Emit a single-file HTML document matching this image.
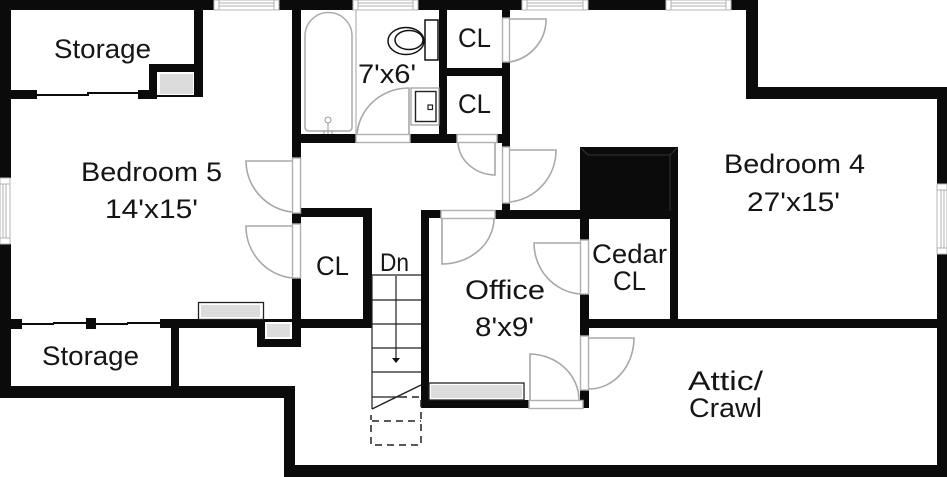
<!DOCTYPE html>
<html><head><meta charset="utf-8"><style>
html,body{margin:0;padding:0;background:#fff;width:947px;height:477px;overflow:hidden}
svg{display:block;filter:blur(0.3px)}
text{font-family:"Liberation Sans",sans-serif;font-size:27px;fill:#151515}
.d{fill:none;stroke:#a8a8a8;stroke-width:1.6}
.o{fill:#fff;stroke:#b0b0b0;stroke-width:1.4}
.l{stroke:#b0b0b0;stroke-width:1;fill:none}
</style></head><body>
<svg width="947" height="477" viewBox="0 0 947 477" xmlns="http://www.w3.org/2000/svg">
<rect width="947" height="477" fill="#fff"/>
<g fill="#0b0b0b">
<!-- top wall -->
<rect x="0" y="0" width="214" height="10"/><rect x="279" y="0" width="74" height="10"/><rect x="418" y="0" width="104" height="10"/><rect x="588" y="0" width="78" height="10"/><rect x="731" y="0" width="27" height="10"/>
<!-- outer right stepped -->
<rect x="746" y="0" width="12" height="99"/><rect x="746" y="87" width="201" height="12"/><rect x="937" y="87" width="10" height="97"/><rect x="937" y="254" width="10" height="223"/>
<!-- left -->
<rect x="0" y="0" width="11" height="178"/><rect x="0" y="244" width="11" height="154"/>
<rect x="0" y="386" width="295" height="12"/><rect x="284" y="386" width="11" height="91"/><rect x="284" y="465" width="663" height="12"/>
<!-- storage top -->
<rect x="194" y="10" width="9" height="87"/><rect x="149" y="64" width="45" height="8"/><rect x="149" y="64" width="8" height="33"/><rect x="157" y="95" width="46" height="2"/>
<rect x="11" y="90" width="26" height="9"/><rect x="37" y="94" width="52" height="2"/><rect x="87" y="92" width="52" height="2"/><rect x="138" y="90" width="19" height="9"/>
<!-- storage bottom -->
<rect x="11" y="319" width="11" height="10"/><rect x="22" y="323" width="32" height="2"/><rect x="53" y="322" width="33" height="2"/><rect x="86" y="318" width="10" height="11"/><rect x="96" y="323" width="32" height="2"/><rect x="127" y="322" width="33" height="2"/>
<rect x="160" y="319" width="141" height="9"/><rect x="171" y="328" width="8" height="58"/>
<rect x="257" y="319" width="8" height="28"/><rect x="257" y="339" width="44" height="8"/>
<!-- hall/bath -->
<rect x="292" y="10" width="9" height="148"/><rect x="292" y="213" width="9" height="11"/><rect x="292" y="278" width="9" height="69"/>
<rect x="301" y="134" width="55" height="9"/><rect x="410" y="134" width="47" height="9"/><rect x="497" y="134" width="13" height="9"/>
<rect x="439" y="10" width="8" height="124"/><rect x="447" y="68" width="55" height="8"/>
<rect x="502" y="10" width="8" height="8"/><rect x="502" y="62" width="8" height="85"/><rect x="502" y="203" width="8" height="8"/>
<rect x="495" y="210" width="85" height="9"/>
<rect x="580" y="147" width="98" height="72"/>
<rect x="580" y="218" width="9" height="22"/><rect x="580" y="294" width="9" height="42"/><rect x="580" y="390" width="9" height="18"/>
<rect x="670" y="218" width="8" height="110"/><rect x="589" y="319" width="348" height="9"/>
<!-- office -->
<rect x="421" y="210" width="20" height="8"/><rect x="421" y="210" width="8" height="198"/><rect x="421" y="400" width="108" height="8"/>
<!-- stair closet -->
<rect x="301" y="208" width="71" height="9"/><rect x="363" y="208" width="9" height="120"/><rect x="301" y="319" width="71" height="9"/>
</g>
<path d="M588 155H670V211M588 155L581 148M670 155L677 148" fill="none" stroke="#333" stroke-width="1"/>
<!-- closets grey -->
<rect x="158" y="72" width="36" height="23" fill="#fff"/><rect x="160" y="74" width="33" height="20" fill="#dcdcdc"/>
<rect x="265" y="322" width="27" height="17" fill="#fff"/><rect x="267" y="324" width="23" height="13" fill="#dcdcdc"/>
<rect x="198.500" y="302.500" width="65" height="17" fill="#fff" stroke="#222" stroke-width="1.3"/><rect x="201" y="305" width="59" height="12" fill="#dcdcdc"/>
<rect x="429" y="383" width="95" height="17" fill="#fff" stroke="#222" stroke-width="1.3"/><rect x="431" y="385" width="91" height="13" fill="#dcdcdc"/>
<!-- windows -->
<g>
<rect x="214" y="0" width="65" height="10" fill="#fff" stroke="#b5b5b5"/><path class="l" d="M219 3H274M219 6H274M219 0V10M274 0V10"/>
<rect x="353" y="0" width="65" height="10" fill="#fff" stroke="#b5b5b5"/><path class="l" d="M358 3H413M358 6H413M358 0V10M413 0V10"/>
<rect x="522" y="0" width="66" height="10" fill="#fff" stroke="#b5b5b5"/><path class="l" d="M527 3H583M527 6H583M527 0V10M583 0V10"/>
<rect x="666" y="0" width="65" height="10" fill="#fff" stroke="#b5b5b5"/><path class="l" d="M671 3H726M671 6H726M671 0V10M726 0V10"/>
<rect x="0" y="178" width="10" height="66" fill="#fff" stroke="#b5b5b5"/><path class="l" d="M3 184V238M6 184V238M0 184H10M0 238H10"/>
<rect x="937" y="184" width="10" height="70" fill="#fff" stroke="#b5b5b5"/><path class="l" d="M941 190V248M944 190V248M937 190H947M937 248H947"/>
</g>
<!-- door openings -->
<rect class="o" x="292.500" y="158" width="8" height="55"/><rect class="o" x="292.500" y="224" width="8" height="54"/>
<rect class="o" x="356" y="134.500" width="54" height="8"/><rect class="o" x="457" y="134.500" width="40" height="8"/>
<rect class="o" x="502.500" y="18" width="7" height="44"/><rect class="o" x="502.500" y="147" width="7" height="56"/>
<rect class="o" x="441" y="210.500" width="54" height="8"/><rect class="o" x="580.500" y="240" width="8" height="54"/><rect class="o" x="580.500" y="336" width="8" height="54"/><rect class="o" x="529" y="400.500" width="54" height="8"/>
<!-- door swings -->
<path class="d" d="M292 161H246A52 52 0 0 0 292 212"/>
<path class="d" d="M292 226H246A52 52 0 0 0 292 278"/>
<path class="d" d="M409 134V88A52 50 0 0 0 357 134"/>
<path class="d" d="M510 19H546A44 43 0 0 1 510 62"/>
<path class="d" d="M510 150H556A52 52 0 0 1 510 202"/>
<path class="d" d="M495 143V175A38 34 0 0 1 458 143"/>
<path class="d" d="M442 218V264A52 46 0 0 0 494 218"/>
<path class="d" d="M580 243H534A50 51 0 0 0 580 294"/>
<path class="d" d="M589 338H634A45 51 0 0 1 589 389"/>
<path class="d" d="M530 400V354A50 46 0 0 1 579 400"/>
<!-- bath fixtures -->
<line x1="356" y1="10" x2="356" y2="134" stroke="#b5b5b5" stroke-width="1.2"/>
<path d="M305 127V36A23 23 0 0 1 352 36V127Q352 131 348 131H309Q305 131 305 127Z" fill="none" stroke="#aaa" stroke-width="1.5"/>
<circle cx="328" cy="120" r="3" fill="#fff" stroke="#999"/><path d="M328 123V134M324 131V134M332 131V134" stroke="#999" fill="none"/>
<ellipse cx="406" cy="41" rx="18" ry="13.500" fill="#fff" stroke="#111" stroke-width="1.5"/>
<ellipse cx="409" cy="40" rx="14" ry="9.500" fill="#fff" stroke="#111" stroke-width="1.5"/>
<rect x="425" y="20" width="13" height="40" fill="#fff" stroke="#111" stroke-width="1.5"/>
<rect x="411" y="88" width="28" height="37" fill="#fff" stroke="#999" stroke-width="1.2"/>
<rect x="415.500" y="91.500" width="20.500" height="30" fill="#fff" stroke="#222" stroke-width="1.4"/>
<rect x="428" y="105" width="4.500" height="4.500" fill="#fff" stroke="#222" stroke-width="1.2"/>
<!-- stairs -->
<g stroke="#222" stroke-width="1.2" fill="none">
<path d="M372 275V409M372 275H421M372 300H421M372 324H421M372 348H421M372 372H421M372 397H400"/>
<path d="M372 409L421 385" stroke-width="1.4"/>
<path d="M396 276V358"/>
<path d="M400 397H421V445H371V415M372 421H421" stroke-dasharray="7 5" stroke-width="1.5"/>
</g>
<path d="M392 358H400L396 363Z" fill="#111"/>
<!-- labels -->
<text x="54" y="58" textLength="97" lengthAdjust="spacingAndGlyphs">Storage</text>
<text x="81" y="181" textLength="141" lengthAdjust="spacingAndGlyphs">Bedroom 5</text>
<text x="105" y="218" textLength="93" lengthAdjust="spacingAndGlyphs">14'x15'</text>
<text x="358" y="83" textLength="58" lengthAdjust="spacingAndGlyphs">7'x6'</text>
<text x="458" y="47" textLength="33" lengthAdjust="spacingAndGlyphs">CL</text>
<text x="458" y="113" textLength="33" lengthAdjust="spacingAndGlyphs">CL</text>
<text x="316" y="275" textLength="33" lengthAdjust="spacingAndGlyphs">CL</text>
<text x="380" y="271" textLength="29" lengthAdjust="spacingAndGlyphs" style="font-size:25px">Dn</text>
<text x="465" y="299" textLength="80" lengthAdjust="spacingAndGlyphs">Office</text>
<text x="475" y="336" textLength="59" lengthAdjust="spacingAndGlyphs">8'x9'</text>
<text x="592" y="263" textLength="75" lengthAdjust="spacingAndGlyphs">Cedar</text>
<text x="613" y="290" textLength="33" lengthAdjust="spacingAndGlyphs">CL</text>
<text x="42" y="365" textLength="97" lengthAdjust="spacingAndGlyphs">Storage</text>
<text x="688" y="390" textLength="75" lengthAdjust="spacingAndGlyphs">Attic/</text>
<text x="689" y="417" textLength="73" lengthAdjust="spacingAndGlyphs">Crawl</text>
<text x="724" y="173" textLength="141" lengthAdjust="spacingAndGlyphs">Bedroom 4</text>
<text x="747" y="211" textLength="93" lengthAdjust="spacingAndGlyphs">27'x15'</text>
</svg>
</body></html>
